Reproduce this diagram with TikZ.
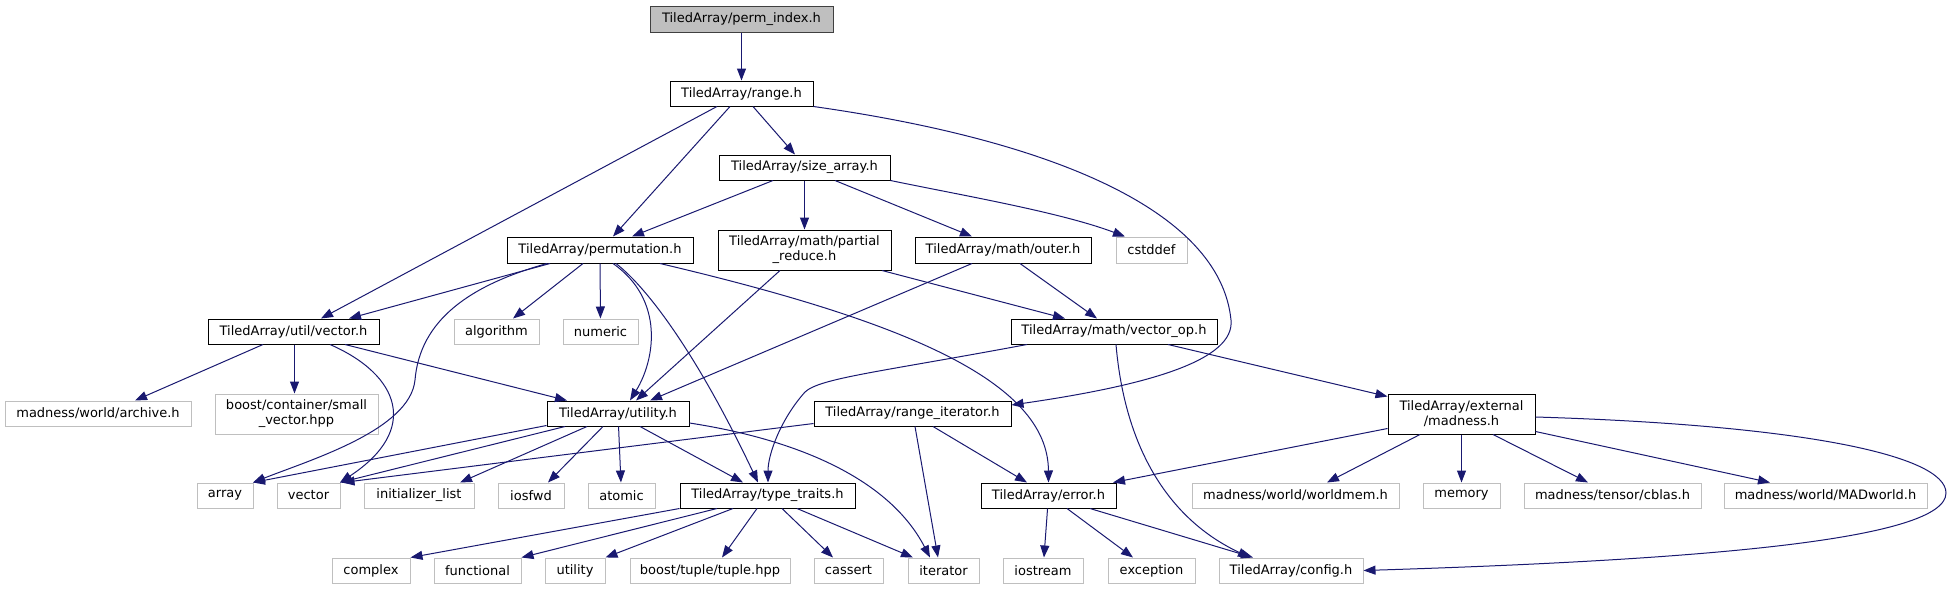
\documentclass[tikz,border=0pt]{standalone}
\usepackage{fontspec}
\setmainfont{DejaVu Sans}
\usetikzlibrary{arrows.meta}
\definecolor{edgeblue}{HTML}{191970}
\definecolor{extgray}{HTML}{BFBFBF}
\definecolor{rootfill}{HTML}{BFBFBF}
\definecolor{rootborder}{HTML}{404040}
\newcommand\nfont{\fontsize{13}{15}\selectfont}
\tikzset{
  base/.style={rectangle, inner sep=0pt, minimum height=25pt, font=\nfont, text=black, line width=1pt, align=center},
  doc/.style={base, draw=black},
  ext/.style={base, draw=extgray},
  rootn/.style={base, draw=rootborder, fill=rootfill},
  edge/.style={draw=edgeblue, line width=1pt, -{Triangle[length=12pt,width=9pt]}}
}
\begin{document}
\begin{tikzpicture}[x=1pt,y=-1pt]
\useasboundingbox (0,0) rectangle (1952,589);
% row 1-3
\node[rootn, minimum width=183pt, minimum height=26pt] (perm) at (741.5,19) {TiledArray/perm\_index.h};
\node[doc, minimum width=143pt] (range) at (741.5,93.5) {TiledArray/range.h};
\node[doc, minimum width=171pt] (sizearr) at (804.5,167.5) {TiledArray/size\_array.h};
% row 4
\node[doc, minimum width=186pt, minimum height=26pt] (perm2) at (600,250) {TiledArray/permutation.h};
\node[doc, minimum width=173pt, minimum height=40pt] (partred) at (804.5,250) {TiledArray/math/partial\\\_reduce.h};
\node[doc, minimum width=176pt, minimum height=26pt] (outer) at (1003,250) {TiledArray/math/outer.h};
\node[ext, minimum width=71pt, minimum height=26pt] (cstddef) at (1151.5,250) {cstddef};
% row 5
\node[doc, minimum width=171pt] (uvec) at (293.5,331.5) {TiledArray/util/vector.h};
\node[ext, minimum width=85pt] (algo) at (496.5,331.5) {algorithm};
\node[ext, minimum width=75pt] (numeric) at (600.5,331.5) {numeric};
\node[doc, minimum width=206pt] (vecop) at (1114,331.5) {TiledArray/math/vector\_op.h};
% row 6
\node[ext, minimum width=186pt] (archive) at (98,413.5) {madness/world/archive.h};
\node[ext, minimum width=163pt, minimum height=40pt] (smallvec) at (296.5,414) {boost/container/small\\\_vector.hpp};
\node[doc, minimum width=142pt] (utilh) at (618,413.5) {TiledArray/utility.h};
\node[doc, minimum width=197pt] (rangeit) at (912.5,413.5) {TiledArray/range\_iterator.h};
\node[doc, minimum width=147pt, minimum height=40pt] (madness) at (1461.5,414) {TiledArray/external\\/madness.h};
% row 7
\node[ext, minimum width=56pt] (array) at (225,495.5) {array};
\node[ext, minimum width=63pt] (vector) at (308.5,495.5) {vector};
\node[ext, minimum width=110pt] (initl) at (419,495.5) {initializer\_list};
\node[ext, minimum width=66pt] (iosfwd) at (531,495.5) {iosfwd};
\node[ext, minimum width=67pt] (atomic) at (621.5,495.5) {atomic};
\node[doc, minimum width=175pt] (ttraits) at (767.5,495.5) {TiledArray/type\_traits.h};
\node[doc, minimum width=135pt] (errorh) at (1048.5,495.5) {TiledArray/error.h};
\node[ext, minimum width=207pt] (worldmem) at (1295.5,495.5) {madness/world/worldmem.h};
\node[ext, minimum width=77pt] (memory) at (1461.5,495.5) {memory};
\node[ext, minimum width=177pt] (cblas) at (1612.5,495.5) {madness/tensor/cblas.h};
\node[ext, minimum width=203pt] (madworld) at (1825.5,495.5) {madness/world/MADworld.h};
% row 8
\node[ext, minimum width=78pt] (complex) at (371,570.5) {complex};
\node[ext, minimum width=87pt] (functional) at (477.5,570.5) {functional};
\node[ext, minimum width=60pt] (utilstd) at (575,570.5) {utility};
\node[ext, minimum width=160pt] (tuple) at (710,570.5) {boost/tuple/tuple.hpp};
\node[ext, minimum width=69pt] (cassert) at (848.5,570.5) {cassert};
\node[ext, minimum width=71pt] (iterator) at (943.5,570.5) {iterator};
\node[ext, minimum width=80pt] (iostream) at (1043,570.5) {iostream};
\node[ext, minimum width=87pt] (exception) at (1151.5,570.5) {exception};
\node[ext, minimum width=144pt] (config) at (1291,570.5) {TiledArray/config.h};

% edges
\draw[edge] (perm) -- (range);
\draw[edge] ([xshift=-24.5]range.south) -- ([xshift=27.5]uvec.north);
\draw[edge] ([xshift=-11.5]range.south) -- ([xshift=13]perm2.north);
\draw[edge] ([xshift=11.5]range.south) -- ([xshift=-9.5]sizearr.north);
\draw[edge] (range.south east) .. controls (1050,140) and (1220,210) .. (1231,320) .. controls (1235,360) and (1150,385) .. ([yshift=8.5]rangeit.east);

\draw[edge] ([xshift=-31.5]sizearr.south) -- ([xshift=32]perm2.north);
\draw[edge] (sizearr) -- (partred);
\draw[edge] ([xshift=30.5]sizearr.south) -- ([xshift=-31]outer.north);
\draw[edge] (sizearr.south east) .. controls (960,195) and (1060,212) .. ([xshift=-26.5]cstddef.north);

\draw[edge] ([xshift=-50]perm2.south) -- ([xshift=55.5]uvec.north);
\draw[edge] ([xshift=-53]perm2.south) .. controls (470,285) and (420,320) .. (415,380) .. controls (410,430) and (310,460) .. ([xshift=28]array.north);
\draw[edge] ([xshift=-17]perm2.south) -- ([xshift=16.5]algo.north);
\draw[edge] (perm2) -- (numeric);
\draw[edge] ([xshift=13]perm2.south) .. controls (665,300) and (655,360) .. ([xshift=12]utilh.north);
\draw[edge] ([xshift=16]perm2.south) .. controls (650,290) and (700,360) .. ([xshift=-9.5]ttraits.north);
\draw[edge] ([xshift=60]perm2.south) .. controls (900,320) and (1048,380) .. (errorh.north);

\draw[edge] ([xshift=-30.5]uvec.south) -- ([xshift=37]archive.north);
\draw[edge] ([xshift=1]uvec.south) -- ([xshift=-2]smallvec.north);
\draw[edge] ([xshift=36.5]uvec.south) .. controls (400,375) and (420,430) .. ([xshift=31.5]vector.north);
\draw[edge] ([xshift=51.5]uvec.south) -- ([xshift=-51]utilh.north);

\draw[edge] ([xshift=-24.5]partred.south) -- ([xshift=18]utilh.north);
\draw[edge] ([xshift=77.5]partred.south) -- ([xshift=-49]vecop.north);
\draw[edge] ([xshift=-31]outer.south) -- ([xshift=32]utilh.north);
\draw[edge] ([xshift=17]outer.south) -- ([xshift=-17]vecop.north);

\draw[edge] ([xshift=-87]vecop.south) .. controls (880,372) and (820,378) .. (805,392) .. controls (780,420) and (768,455) .. ([xshift=0.5]ttraits.north);
\draw[edge] ([xshift=2]vecop.south) .. controls (1125,450) and (1170,520) .. ([xshift=-41]config.north);
\draw[edge] ([xshift=54]vecop.south) -- ([yshift=-3]madness.north west);

\draw[edge] ([yshift=1]utilh.south west) -- ([xshift=28]array.north);
\draw[edge] ([xshift=-53]utilh.south) -- ([xshift=31.5]vector.north);
\draw[edge] ([xshift=-31]utilh.south) -- ([xshift=41]initl.north);
\draw[edge] ([xshift=-15]utilh.south) -- ([xshift=17]iosfwd.north);
\draw[edge] (utilh) -- (atomic);
\draw[edge] ([xshift=22]utilh.south) -- ([xshift=-24.5]ttraits.north);
\draw[edge] ([yshift=-9.5]utilh.east) .. controls (800,440) and (890,480) .. ([xshift=-13.5]iterator.north);

\draw[edge] ([yshift=-10]rangeit.west) -- ([xshift=34]vector.north);
\draw[edge] ([xshift=2.5]rangeit.south) -- ([xshift=-5.5]iterator.north);
\draw[edge] ([xshift=20.5]rangeit.south) -- ([xshift=-21.5]errorh.north);

\draw[edge] ([yshift=6]madness.south west) -- ([xshift=64.5]errorh.north);
\draw[edge] ([xshift=-41.5]madness.south) -- ([xshift=31.5]worldmem.north);
\draw[edge] (madness) -- (memory);
\draw[edge] ([xshift=31.5]madness.south) -- ([xshift=-24.5]cblas.north);
\draw[edge] ([yshift=3]madness.south east) -- ([xshift=-55.5]madworld.north);
\draw[edge] ([yshift=-3]madness.east) .. controls (1800,425) and (1946,455) .. (1946,493) .. controls (1946,540) and (1700,560) .. (config.east);

\draw[edge] (ttraits.south west) -- (complex.north east);
\draw[edge] ([xshift=-50.5]ttraits.south) -- (functional.north east);
\draw[edge] ([xshift=-34.5]ttraits.south) -- (utilstd.north east);
\draw[edge] ([xshift=-10.5]ttraits.south) -- ([xshift=12]tuple.north);
\draw[edge] ([xshift=14.5]ttraits.south) -- ([xshift=-15.5]cassert.north);
\draw[edge] ([xshift=29.5]ttraits.south) -- ([xshift=-30.5]iterator.north);

\draw[edge] (errorh) -- (iostream);
\draw[edge] ([xshift=18.5]errorh.south) -- ([xshift=-18.5]exception.north);
\draw[edge] ([xshift=41.5]errorh.south) -- ([xshift=-38]config.north);
\end{tikzpicture}
\end{document}
